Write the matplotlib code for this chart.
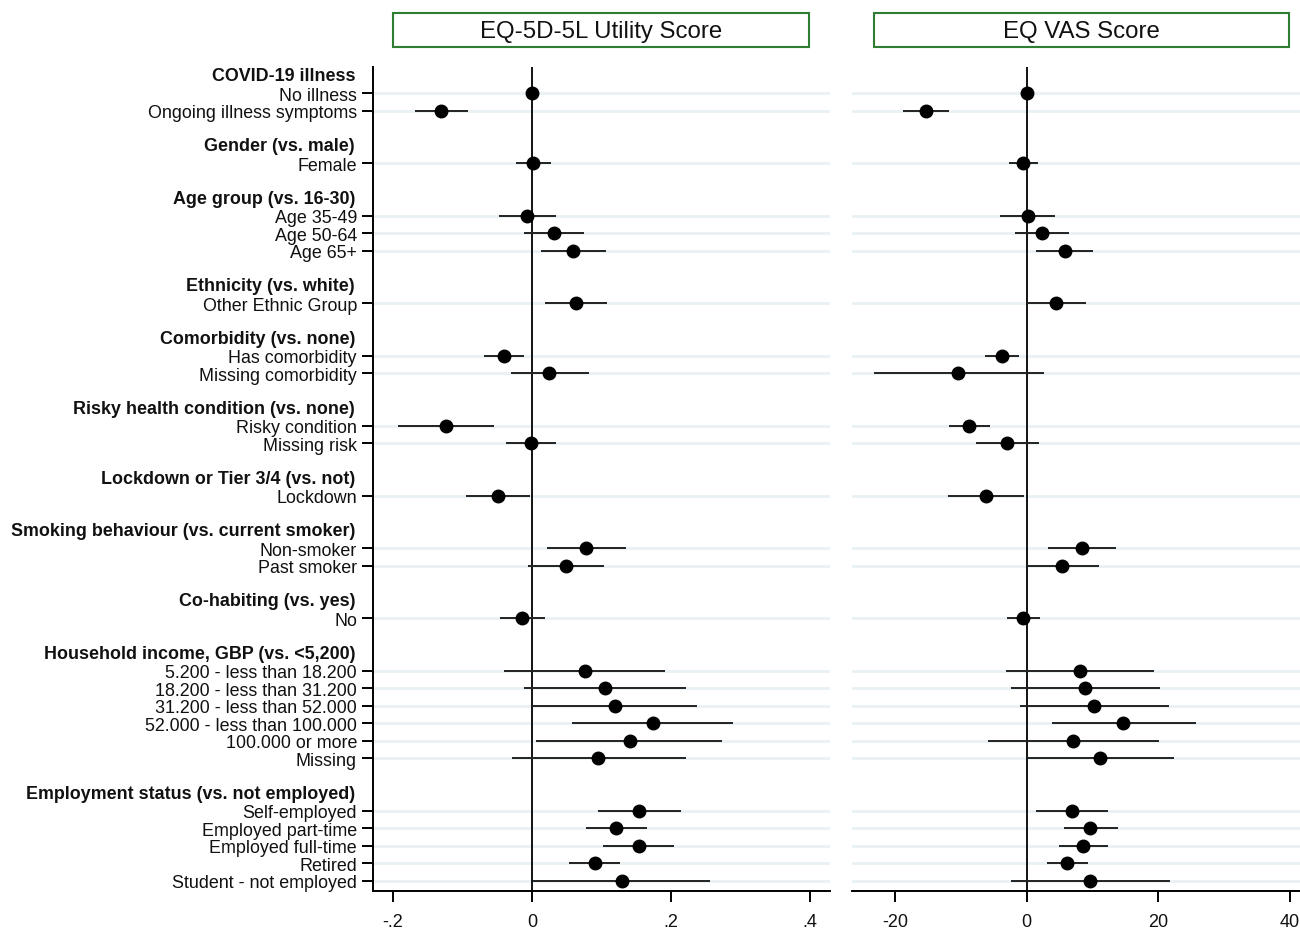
import numpy as np
import matplotlib.pyplot as plt
from matplotlib.patches import Rectangle

plt.rcParams["font.family"] = ["Liberation Sans", "DejaVu Sans"]
plt.rcParams["axes.unicode_minus"] = False

# Gruppen und Kategorien (von oben nach unten)
group_titles = [
    "COVID-19 illness", "Gender (vs. male)", "Age group (vs. 16-30)",
    "Ethnicity (vs. white)", "Comorbidity (vs. none)",
    "Risky health condition (vs. none)", "Lockdown or Tier 3/4 (vs. not)",
    "Smoking behaviour (vs. current smoker)", "Co-habiting (vs. yes)",
    "Household income, GBP (vs. <5,200)", "Employment status (vs. not employed)",
]
group_items = [
    ["No illness", "Ongoing illness symptoms"],
    ["Female"],
    ["Age 35-49", "Age 50-64", "Age 65+"],
    ["Other Ethnic Group"],
    ["Has comorbidity", "Missing comorbidity"],
    ["Risky condition", "Missing risk"],
    ["Lockdown"],
    ["Non-smoker", "Past smoker"],
    ["No"],
    ["5.200 - less than 18.200", "18.200 - less than 31.200",
     "31.200 - less than 52.000", "52.000 - less than 100.000",
     "100.000 or more", "Missing"],
    ["Self-employed", "Employed part-time", "Employed full-time",
     "Retired", "Student - not employed"],
]

# EQ-5D-5L Utility Score
util_est = [0.0, -0.131, 0.001, -0.007, 0.031, 0.059, 0.063, -0.040, 0.024,
            -0.124, -0.001, -0.049, 0.078, 0.049, -0.014,
            0.076, 0.105, 0.119, 0.174, 0.141, 0.095,
            0.154, 0.121, 0.154, 0.091, 0.130]
util_lo = [0.0, -0.168, -0.023, -0.048, -0.012, 0.013, 0.018, -0.069, -0.030,
           -0.193, -0.037, -0.095, 0.022, -0.006, -0.046,
           -0.040, -0.012, 0.000, 0.057, 0.006, -0.029,
           0.095, 0.077, 0.102, 0.053, 0.001]
util_hi = [0.0, -0.092, 0.027, 0.035, 0.075, 0.107, 0.108, -0.012, 0.082,
           -0.055, 0.035, -0.003, 0.135, 0.104, 0.019,
           0.192, 0.222, 0.238, 0.289, 0.274, 0.221,
           0.214, 0.166, 0.205, 0.127, 0.256]

# EQ VAS Score
vas_est = [0.0, -15.3, -0.6, 0.2, 2.3, 5.8, 4.4, -3.75, -10.4,
           -8.8, -3.0, -6.2, 8.4, 5.4, -0.6,
           8.1, 8.9, 10.3, 14.7, 7.1, 11.2,
           6.9, 9.7, 8.6, 6.1, 9.7]
vas_lo = [0.0, -18.7, -2.7, -4.0, -1.7, 1.4, 0.0, -6.3, -23.2,
          -11.8, -7.7, -12.0, 3.2, 0.0, -3.0,
          -3.1, -2.4, -1.0, 3.8, -5.8, 0.0,
          1.5, 5.7, 4.9, 3.1, -2.4]
vas_hi = [0.0, -11.8, 1.7, 4.35, 6.4, 10.1, 9.0, -1.2, 2.6,
          -5.6, 1.9, -0.4, 13.6, 11.0, 2.0,
          19.3, 20.2, 21.6, 25.7, 20.1, 22.3,
          12.4, 13.8, 12.3, 9.3, 21.7]

util_ticks = [-0.2, 0, 0.2, 0.4]
util_ticklabels = ["-.2", "0", ".2", ".4"]
vas_ticks = [-20, 0, 20, 40]

# Zeilenpositionen: Kopfzeile, Items, Leerzeile
header_pos, item_pos, item_labels = [], [], []
r = 0
for title, items in zip(group_titles, group_items):
    header_pos.append(r)
    r += 1
    for it in items:
        item_pos.append(r)
        item_labels.append(it)
        r += 1
    r += 1
item_pos = np.array(item_pos)

fig = plt.figure(figsize=(13, 9.29), dpi=100)
fig.patch.set_facecolor("white")

ax1 = fig.add_axes([373/1300, 37/929, 457/1300, 824/929])
ax2 = fig.add_axes([852/1300, 37/929, 448/1300, 824/929])

grid_col = "#e9f1f4"
for ax, est, lo, hi in [(ax1, util_est, util_lo, util_hi),
                        (ax2, vas_est, vas_lo, vas_hi)]:
    for y in item_pos:
        ax.axhline(y, color=grid_col, lw=2, zorder=0)
    ax.axvline(0, color="black", lw=1.3, zorder=1)
    ax.hlines(item_pos, lo, hi, color="#222222", lw=1.4, zorder=2)
    ax.plot(est, item_pos, "o", color="black", ms=9, zorder=3)
    ax.set_ylim(46.6, -0.514)
    for sp in ["top", "right"]:
        ax.spines[sp].set_visible(False)
    ax.spines["bottom"].set_linewidth(1.4)
    ax.tick_params(axis="x", length=8, width=1.4, labelsize=13, pad=8,
                   labelcolor="#111111")

ax1.set_xlim(-0.2288, 0.4288)
ax1.set_xticks(util_ticks)
ax1.set_xticklabels(util_ticklabels)
ax1.spines["left"].set_linewidth(1.4)
ax1.set_yticks(item_pos)
ax1.set_yticklabels(item_labels, fontsize=12.9, color="#111111")
ax1.tick_params(axis="y", length=8, width=1.4, pad=3.6)
# Kopfzeilen fett
for hp, title in zip(header_pos, group_titles):
    ax1.text(-18/457, hp, title, transform=ax1.get_yaxis_transform(),
             ha="right", va="center", fontsize=12.9, fontweight="bold",
             color="#111111")

ax2.set_xlim(-26.5, 41.5)
ax2.set_xticks(vas_ticks)
ax2.spines["left"].set_visible(False)
ax2.set_yticks([])

# Titelkästen
for x0, x1, title in [(393, 809, "EQ-5D-5L Utility Score"),
                      (874, 1289, "EQ VAS Score")]:
    fig.add_artist(Rectangle((x0/1300, (929-48)/929), (x1-x0)/1300, 34/929,
                             transform=fig.transFigure, fill=False,
                             edgecolor="#2e7d32", lw=1.5))
    fig.text((x0+x1)/2/1300, (929-32)/929, title, ha="center", va="center",
             fontsize=17.3, color="#111111")

plt.savefig("out.png", dpi=100, facecolor="white")
